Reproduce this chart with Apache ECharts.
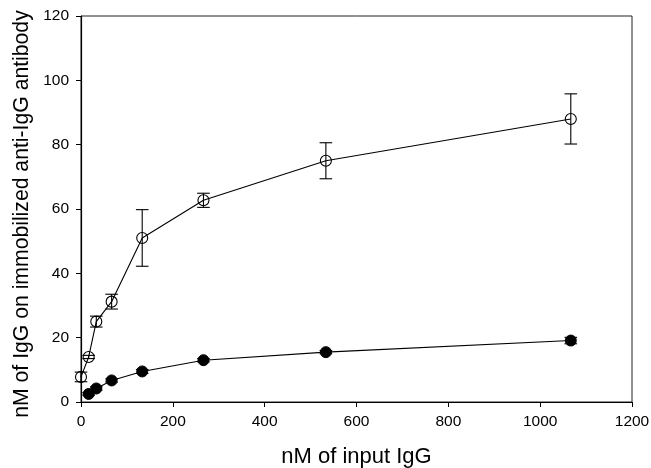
<!DOCTYPE html>
<html>
<head>
<meta charset="utf-8">
<script src="https://cdn.jsdelivr.net/npm/echarts@6/dist/echarts.min.js"></script>
<style>html,body{margin:0;padding:0;background:#fff}#c{width:651px;height:468px}</style>
</head>
<body>
<div id="c"></div>
<script>
var openX = [0, 16.7, 33.3, 66.7, 133.3, 266.7, 533.3, 1066.7];
var openMean = [7.8, 14.0, 25.0, 31.2, 51.0, 62.7, 75.0, 88.0];
var openErr = [1.5, 0.5, 1.7, 2.3, 8.8, 2.2, 5.6, 7.8];
var filledX = [16.7, 33.3, 66.7, 133.3, 266.7, 533.3, 1066.7];
var filledMean = [2.5, 4.2, 6.7, 9.5, 13.0, 15.5, 19.1];
var filledErr = [0.4, 0.5, 0.5, 0.6, 0.5, 0.5, 1.0];
var xTicks = [0, 200, 400, 600, 800, 1000, 1200];
var yTicks = [0, 20, 40, 60, 80, 100, 120];

function pairs(xs, ys) { return xs.map(function (x, i) { return [x, ys[i]]; }); }
function errData(xs, ys, es) { return xs.map(function (x, i) { return [x, ys[i] - es[i], ys[i] + es[i]]; }); }

function errRender(params, api) {
  var x = api.value(0);
  var lo = api.coord([x, api.value(1)]);
  var hi = api.coord([x, api.value(2)]);
  var w = 6.3;
  var st = { stroke: '#000', lineWidth: 1.1 };
  return {
    type: 'group',
    children: [
      { type: 'line', shape: { x1: lo[0], y1: lo[1], x2: hi[0], y2: hi[1] }, style: st },
      { type: 'line', shape: { x1: lo[0] - w, y1: lo[1], x2: lo[0] + w, y2: lo[1] }, style: st },
      { type: 'line', shape: { x1: hi[0] - w, y1: hi[1], x2: hi[0] + w, y2: hi[1] }, style: st }
    ]
  };
}

var chart = echarts.init(document.getElementById('c'));
var font = 'Liberation Sans, Arial, sans-serif';
chart.setOption({
  animation: false,
  grid: { left: 81, right: 19, top: 16, bottom: 66, show: true, borderColor: '#222', borderWidth: 1, containLabel: false, outerBoundsMode: 'none' },
  xAxis: {
    type: 'value', min: xTicks[0], max: xTicks[xTicks.length - 1], interval: 200,
    name: 'nM of input IgG', nameLocation: 'middle', nameGap: 44,
    nameTextStyle: { fontFamily: font, fontSize: 22, color: '#000' },
    axisLine: { show: true, lineStyle: { color: '#000', width: 1.2 } },
    axisTick: { show: true, inside: false, length: 5, lineStyle: { color: '#000' } },
    axisLabel: { fontFamily: font, fontSize: 15.5, color: '#000', margin: 12, formatter: function (v) { return String(v); } },
    splitLine: { show: false }
  },
  yAxis: {
    type: 'value', min: yTicks[0], max: yTicks[yTicks.length - 1], interval: 20,
    name: 'nM of IgG on immobilized anti-IgG antibody', nameLocation: 'middle', nameGap: 46,
    nameTextStyle: { fontFamily: font, fontSize: 21.2, color: '#000', padding: [0, 10, 0, 0] },
    axisLine: { show: true, lineStyle: { color: '#000', width: 1.2 } },
    axisTick: { show: true, inside: false, length: 5, lineStyle: { color: '#000' } },
    axisLabel: { fontFamily: font, fontSize: 15.5, color: '#000', margin: 12, formatter: function (v) { return String(v); } },
    splitLine: { show: false }
  },
  series: [
    { type: 'custom', renderItem: errRender, data: errData(openX, openMean, openErr), z: 1 },
    { type: 'custom', renderItem: errRender, data: errData(filledX, filledMean, filledErr), z: 1 },
    {
      type: 'line', data: pairs(openX, openMean), symbol: 'circle', symbolSize: 11,
      lineStyle: { color: '#000', width: 1.1 },
      itemStyle: { color: 'rgba(255,255,255,0)', borderColor: '#000', borderWidth: 1.1 }, z: 3
    },
    {
      type: 'line', data: pairs(filledX, filledMean), symbol: 'circle', symbolSize: 11,
      lineStyle: { color: '#000', width: 1.1 },
      itemStyle: { color: '#000', borderColor: '#000', borderWidth: 1 }, z: 3
    }
  ]
});
</script>
</body>
</html>
